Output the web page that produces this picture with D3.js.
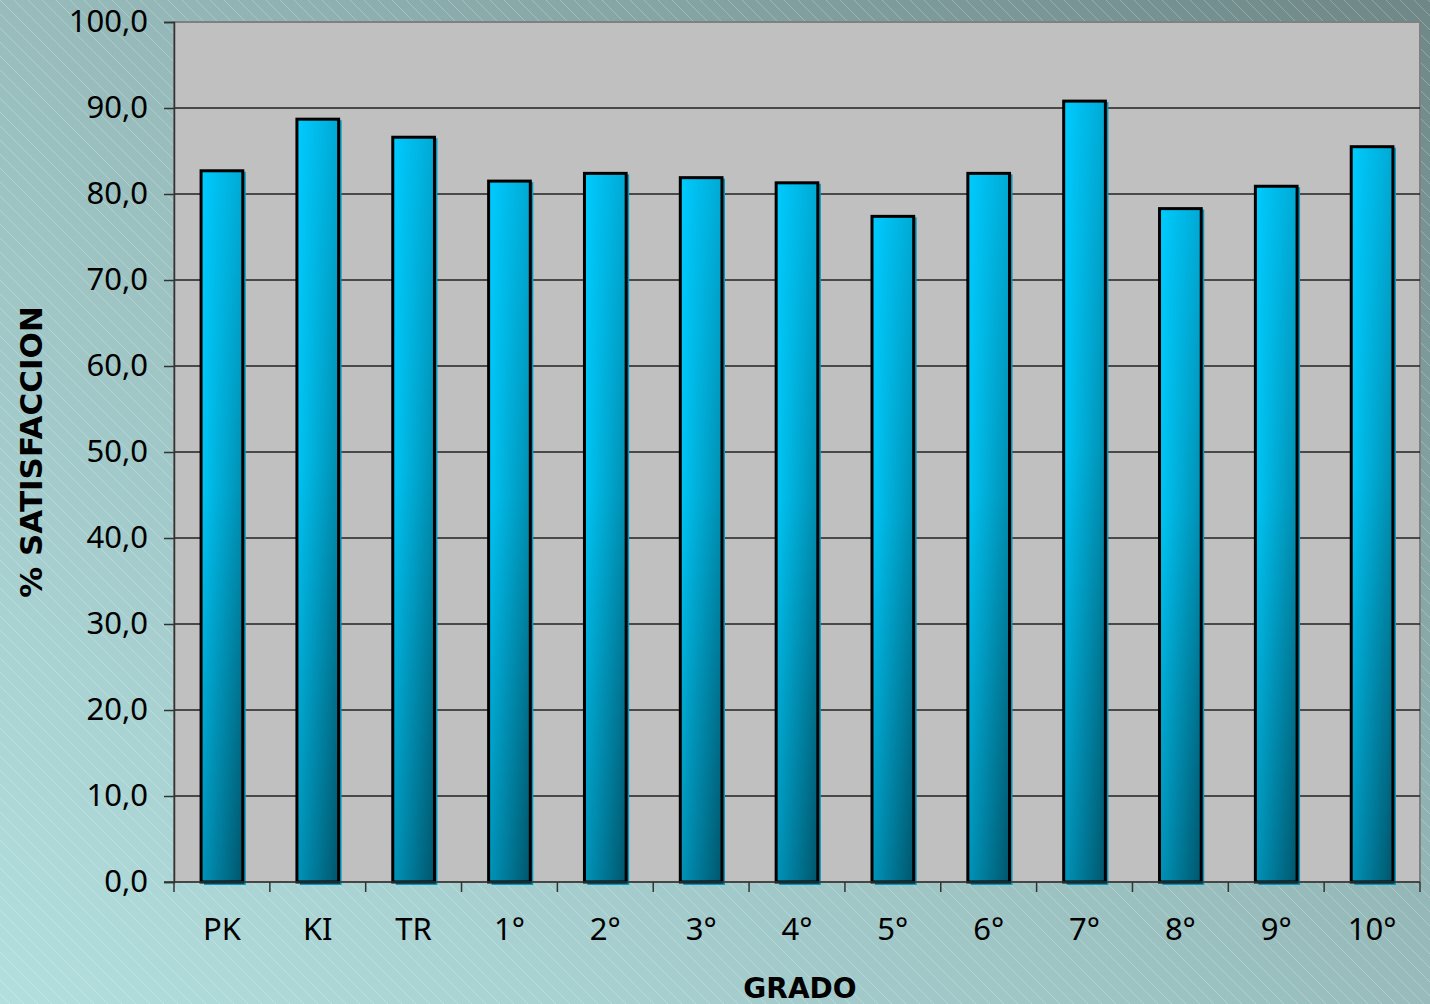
<!DOCTYPE html>
<html><head><meta charset="utf-8">
<script src="https://cdn.jsdelivr.net/npm/d3@7"></script>
<style>body{margin:0;padding:0;overflow:hidden}svg{display:block}</style>
</head><body>
<script>
const categories = ["PK","KI","TR","1°","2°","3°","4°","5°","6°","7°","8°","9°","10°"];
const values = [82.7, 88.7, 86.6, 81.5, 82.4, 81.9, 81.3, 77.4, 82.4, 90.8, 78.3, 80.9, 85.5];
const yTicks = [0,10,20,30,40,50,60,70,80,90,100];
const xTitle = "GRADO";
const yTitle = "% SATISFACCION";

const W = 1430, H = 1004;
const m = {left:174, right:10, top:22, bottom:122};
const svg = d3.select("body").append("svg").attr("width", W).attr("height", H);
const defs = svg.append("defs");

const bg = defs.append("linearGradient").attr("id","bg").attr("x1","0").attr("y1","1").attr("x2","1").attr("y2","0");
bg.append("stop").attr("offset","0").attr("stop-color","#b3dfdf");
bg.append("stop").attr("offset","0.5").attr("stop-color","#98bcbc");
bg.append("stop").attr("offset","1").attr("stop-color","#6e8787");

const pat = defs.append("pattern").attr("id","hatch").attr("patternUnits","userSpaceOnUse")
  .attr("width",14).attr("height",14);
pat.append("path").attr("d","M-1,-1 L15,15 M-8,6 L8,22 M6,-8 L22,8").attr("stroke","rgba(255,255,255,0.3)").attr("stroke-width",0.8);

const bv = defs.append("linearGradient").attr("id","barV").attr("x1","0").attr("y1","0").attr("x2","0").attr("y2","1");
bv.append("stop").attr("offset","0").attr("stop-color","#00ccff");
bv.append("stop").attr("offset","0.45").attr("stop-color","#00c6f6");
bv.append("stop").attr("offset","0.75").attr("stop-color","#00aad4");
bv.append("stop").attr("offset","1").attr("stop-color","#0094ba");
const bh = defs.append("linearGradient").attr("id","barH").attr("x1","0").attr("y1","0").attr("x2","1").attr("y2","0");
bh.append("stop").attr("offset","0").attr("stop-color","#000").attr("stop-opacity",0);
bh.append("stop").attr("offset","1").attr("stop-color","#000").attr("stop-opacity",0.42);
const mg = defs.append("linearGradient").attr("id","maskG").attr("x1","0").attr("y1","0").attr("x2","0").attr("y2","1");
mg.append("stop").attr("offset","0").attr("stop-color","#fff").attr("stop-opacity",0.4);
mg.append("stop").attr("offset","1").attr("stop-color","#fff").attr("stop-opacity",1);
defs.append("mask").attr("id","barMask").attr("maskContentUnits","objectBoundingBox")
  .append("rect").attr("x",0).attr("y",0).attr("width",1).attr("height",1).attr("fill","url(#maskG)");

svg.append("rect").attr("width",W).attr("height",H).attr("fill","url(#bg)");
svg.append("rect").attr("width",W).attr("height",H).attr("fill","url(#hatch)");

const x0 = m.left, x1 = W - m.right, y0 = H - m.bottom, y1 = m.top;
const x = d3.scaleBand().domain(categories).range([x0, x1]).paddingInner(0.565).paddingOuter(0.2825);
const y = d3.scaleLinear().domain([0,100]).range([y0, y1]);

svg.append("rect").attr("x",x0).attr("y",y1).attr("width",x1-x0).attr("height",y0-y1)
  .attr("fill","#c0c0c0").attr("stroke","#808080").attr("stroke-width",2);

svg.append("g").selectAll("line").data(yTicks.filter(d=>d>0&&d<100)).join("line")
  .attr("x1",x0).attr("x2",x1).attr("y1",d=>y(d)).attr("y2",d=>y(d))
  .attr("stroke","#222").attr("stroke-width",1.5);

// y axis
const ya = svg.append("g").attr("transform",`translate(${x0},0)`)
  .call(d3.axisLeft(y).tickValues(yTicks).tickSize(10).tickPadding(16).tickFormat(d=>d3.format(".1f")(d).replace(".",",")));
ya.select(".domain").attr("stroke","#333").attr("stroke-width",1.5);
ya.selectAll(".tick line").attr("stroke","#333").attr("stroke-width",1.5);
ya.selectAll("text").attr("font-family","Noto Sans").attr("font-size",31).attr("fill","#000").attr("dy","0.3em");

// bars
const g = svg.append("g");
const bw = x.bandwidth();
g.selectAll("rect.sh").data(values).join("rect").attr("class","sh")
  .attr("x",(d,i)=>x(categories[i])+3).attr("y",d=>y(d)+1)
  .attr("width",bw).attr("height",d=>y0-y(d)+2).attr("fill","#0099c4");
g.selectAll("rect.b").data(values).join("rect").attr("class","b")
  .attr("x",(d,i)=>x(categories[i])).attr("y",d=>y(d))
  .attr("width",bw).attr("height",d=>y0-y(d)).attr("fill","url(#barV)");
g.selectAll("rect.bh").data(values).join("rect").attr("class","bh")
  .attr("x",(d,i)=>x(categories[i])).attr("y",d=>y(d))
  .attr("width",bw).attr("height",d=>y0-y(d)).attr("fill","url(#barH)").attr("mask","url(#barMask)");
g.selectAll("rect.bo").data(values).join("rect").attr("class","bo")
  .attr("x",(d,i)=>x(categories[i])).attr("y",d=>y(d))
  .attr("width",bw).attr("height",d=>y0-y(d)).attr("fill","none")
  .attr("stroke","#000").attr("stroke-width",3);

// x axis
const xa = svg.append("g").attr("transform",`translate(0,${y0})`)
  .call(d3.axisBottom(x).tickSize(0).tickPadding(36));
xa.select(".domain").remove();
xa.selectAll("text").attr("font-family","Noto Sans").attr("font-size",31).attr("fill","#000");
const step = x.step();
svg.append("line").attr("x1",x0-10).attr("x2",x1).attr("y1",y0).attr("y2",y0).attr("stroke","#333").attr("stroke-width",1.5);
svg.append("g").selectAll("line").data(d3.range(categories.length+1)).join("line")
  .attr("x1",i=>x0+i*step).attr("x2",i=>x0+i*step).attr("y1",y0).attr("y2",y0+10)
  .attr("stroke","#333").attr("stroke-width",1.5);

svg.append("text").attr("x",800).attr("y",998).attr("text-anchor","middle")
  .attr("font-family","DejaVu Sans").attr("font-weight","bold").attr("font-size",28).text(xTitle);
svg.append("text").attr("transform",`translate(42,452) rotate(-90)`).attr("text-anchor","middle")
  .attr("font-family","DejaVu Sans").attr("font-weight","bold").attr("font-size",31).text(yTitle);
</script>
</body></html>
